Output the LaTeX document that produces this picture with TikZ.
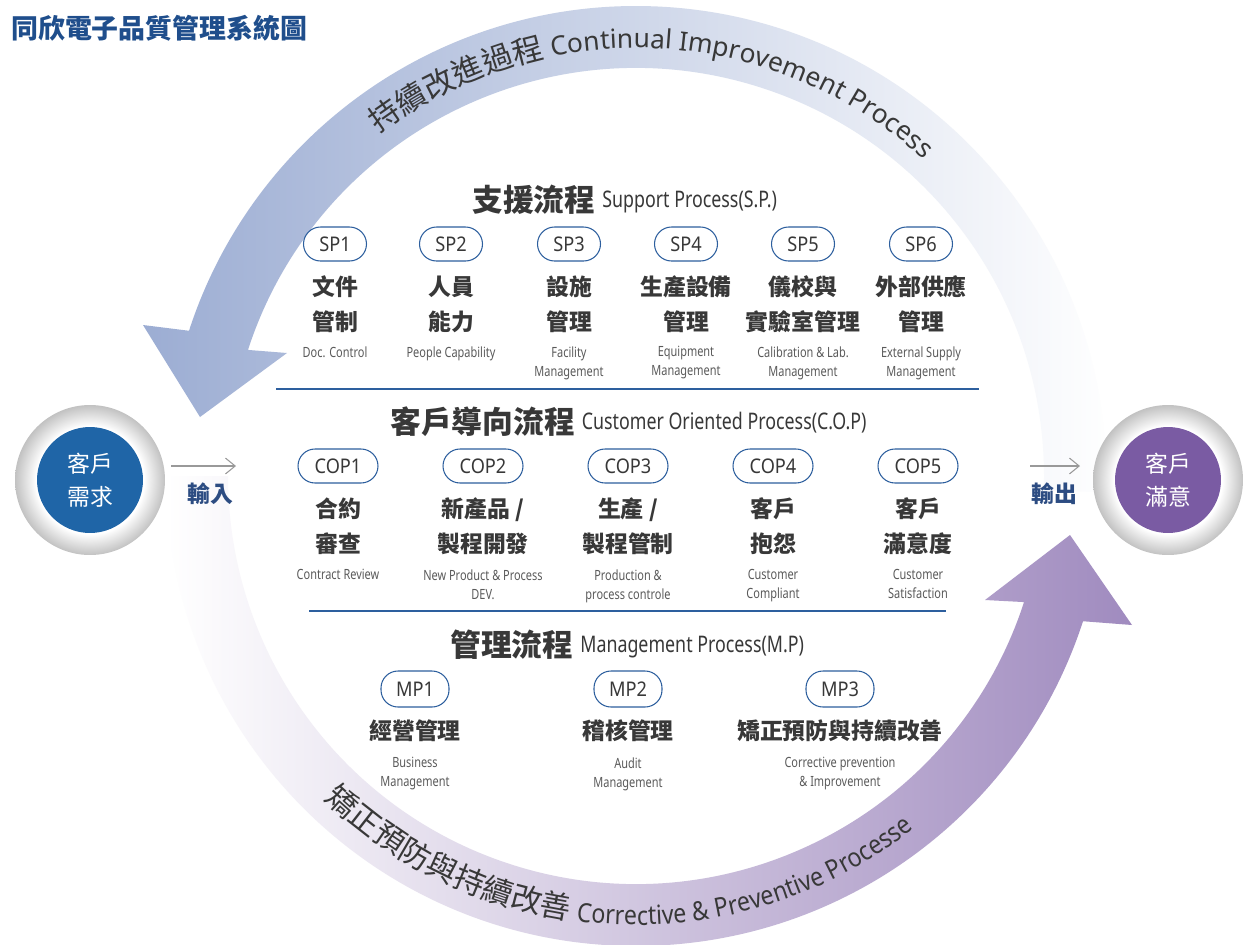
\documentclass[tikz,border=0pt]{standalone}
\usepackage{fontspec}
\setmainfont{Noto Sans CJK TC}
\newfontfamily\condfont[FakeStretch=0.78]{Noto Sans}
\newfontfamily\pillfont[FakeStretch=0.9]{Noto Sans}
\newfontfamily\arcfont{Noto Sans}
\newfontfamily\arcnarrow[FakeStretch=0.88]{Noto Sans}
\usetikzlibrary{calc,arrows.meta}

\definecolor{titleblue}{HTML}{1F4E8C}
\definecolor{lineblue}{HTML}{2D5F9E}
\definecolor{headgrey}{HTML}{383838}
\definecolor{descgrey}{HTML}{5A5A5A}
\definecolor{arcblue}{HTML}{9CADD3}
\definecolor{arcpurple}{HTML}{A08BBF}
\definecolor{needblue}{HTML}{1F65A7}
\definecolor{gladpurple}{HTML}{7A5BA3}
\definecolor{ioblue}{HTML}{2C4C82}

\pgfdeclareradialshading{ringshade}{\pgfpointorigin}{color(0bp)=(white); color(18bp)=(white); color(25bp)=(black!24); color(50bp)=(black!24)}

% letters set one by one round an arc: centre, radius, start angle, +1/-1, font, name prefix, letters
\newdimen\arcw
\newdimen\arcrun
\newcommand\arcchars[7]{%
  \foreach \ch [count=\k] in {#7}{%
    \pgfinterruptpicture\setbox0=\hbox{#5\ch}\global\arcw=\wd0 \endpgfinterruptpicture
    \pgfmathsetmacro\ang{#3+#4*(\the\arcrun+0.5*\the\arcw)/(#2*0.56693)*57.29578}%
    \node[inner sep=0pt, anchor=base, text=headgrey, font=#5, rotate=\ang+#4*90] (#6\k) at ([shift={(\ang:#2)}]#1) {\ch};
    \global\advance\arcrun by \arcw
  }%
}

\begin{document}
\begin{tikzpicture}[x=0.02cm, y=0.02cm]
\tikzset{
  pill/.style={draw=lineblue, line width=0.6pt, rounded corners=0.34cm, minimum height=0.68cm, minimum width=1.26cm, inner sep=0pt, text=headgrey, font=\pillfont\fontsize{11.5}{11.5}\selectfont},
  zh/.style={align=center, inner sep=0pt, text=headgrey, font=\bfseries\fontsize{13}{19.9}\selectfont},
  en/.style={align=center, inner sep=0pt, anchor=north, text=descgrey, font=\condfont\fontsize{8}{10.8}\selectfont},
  heading/.style={anchor=base west, inner sep=0pt, text=headgrey},
  ring/.style={circle, minimum size=3cm, inner sep=0pt, shade, shading=ringshade},
  core/.style={circle, minimum size=2.12cm, inner sep=0pt, align=center, text=white, font=\fontsize{13}{18.7}\selectfont},
  io/.style={draw=black!40, line width=0.6pt, -{Straight Barb[length=5.5pt, width=9pt]}},
  iotext/.style={inner sep=0pt, text=ioblue, font=\bfseries\fontsize{13}{13}\selectfont},
  sep/.style={draw=lineblue, line width=0.8pt}
}
\fill[white] (0,0) rectangle (1245,-944);
\useasboundingbox (0,0) rectangle (1245,-944);
\coordinate (C) at (636,-476);

% the two big arrows
\shade[left color=arcblue, middle color=arcblue!60, right color=white]
  ([shift={(-2:470)}]C) arc[start angle=-2, end angle=162, radius=470]
  -- (143,-325) -- (200,-417) -- (287,-353)
  -- ([shift={(162:408)}]C) arc[start angle=162, end angle=-2, radius=408] -- cycle;
\shade[left color=white, middle color=arcpurple!55, right color=arcpurple]
  ([shift={(180:470)}]C) arc[start angle=180, end angle=342, radius=470]
  -- (1132,-625) -- (1070,-535) -- (985,-600)
  -- ([shift={(342:408)}]C) arc[start angle=342, end angle=180, radius=408] -- cycle;

\global\arcrun=0pt
\arcchars{C}{428}{127}{-1}{\fontsize{17.5}{17.5}\selectfont}{ta}{持,續,改,進,過,程,~}
\arcchars{C}{428}{127}{-1}{\arcfont\fontsize{15}{15}\selectfont}{tb}{C,o,n,t,i,n,u,a,l,~,I,m,p,r,o,v,e,m,e,n,t,~,P,r,o,c,e,s,s}
\global\arcrun=0pt
\arcchars{C}{449}{-134}{1}{\fontsize{17.5}{17.5}\selectfont}{ba}{矯,正,預,防,與,持,續,改,善,~}
\arcchars{C}{449}{-134}{1}{\arcnarrow\fontsize{15}{15}\selectfont}{bb}{C,o,r,r,e,c,t,i,v,e,~,\&,~,P,r,e,v,e,n,t,i,v,e,~,P,r,o,c,e,s,s,e}

% title
\node[anchor=base west, inner sep=0pt, text=titleblue, font=\bfseries\fontsize{15.3}{15.3}\selectfont] (title) at (11,-38) {同欣電子品質管理系統圖};

% input / output
\node[ring] (inring) at (90,-480) {};
\node[core, fill=needblue] (need) at (inring) {客戶\\需求};
\node[ring] (outring) at (1168,-480) {};
\node[core, fill=gladpurple] (glad) at (outring) {客戶\\滿意};
\coordinate (in1) at (171,-466);
\coordinate (in2) at (236,-466);
\draw[io] (in1) -- (in2);
\node[iotext] (intext) at (210,-494) {輸入};
\coordinate (out1) at (1030,-466);
\coordinate (out2) at (1080,-466);
\draw[io] (out1) -- (out2);
\node[iotext] (outtext) at (1054,-494) {輸出};

% support process
\node[heading] (sphead) at (472,-211) {\fontsize{17.5}{17.5}\selectfont\bfseries 支援流程 \condfont\mdseries\fontsize{13}{13}\selectfont\raisebox{2pt}{Support Process(S.P.)}};
\node[pill] (sp1) at (335,-244) {SP1};
\node[zh] (sp1zh) at (335,-304.5) {文件\\管制};
\node[en] (sp1en) at (335,-346) {Doc. Control};
\node[pill] (sp2) at (451,-244) {SP2};
\node[zh] (sp2zh) at (451,-304.5) {人員\\能力};
\node[en] (sp2en) at (451,-346) {People Capability};
\node[pill] (sp3) at (569,-244) {SP3};
\node[zh] (sp3zh) at (569,-304.5) {設施\\管理};
\node[en] (sp3en) at (569,-346) {Facility\\Management};
\node[pill] (sp4) at (686,-244) {SP4};
\node[zh] (sp4zh) at (686,-304.5) {生產設備\\管理};
\node[en] (sp4en) at (686,-346) {Equipment\\Management};
\node[pill] (sp5) at (803,-244) {SP5};
\node[zh] (sp5zh) at (803,-304.5) {儀校與\\實驗室管理};
\node[en] (sp5en) at (803,-346) {Calibration \& Lab.\\Management};
\node[pill] (sp6) at (921,-244) {SP6};
\node[zh] (sp6zh) at (921,-304.5) {外部供應\\管理};
\node[en] (sp6en) at (921,-346) {External Supply\\Management};
\draw[sep] (276,-389) -- (979,-389);

% customer oriented process
\node[heading] (cophead) at (390,-433) {\fontsize{17.5}{17.5}\selectfont\bfseries 客戶導向流程 \condfont\mdseries\fontsize{13}{13}\selectfont\raisebox{2pt}{Customer Oriented Process(C.O.P)}};
\node[pill, minimum width=1.6cm] (cop1) at (338,-466) {COP1};
\node[zh] (cop1zh) at (338,-526.5) {合約\\審查};
\node[en] (cop1en) at (338,-569) {Contract Review};
\node[pill, minimum width=1.6cm] (cop2) at (483,-466) {COP2};
\node[zh] (cop2zh) at (483,-526.5) {新產品 /\\製程開發};
\node[en] (cop2en) at (483,-569) {New Product \& Process\\DEV.};
\node[pill, minimum width=1.6cm] (cop3) at (628,-466) {COP3};
\node[zh] (cop3zh) at (628,-526.5) {生產 /\\製程管制};
\node[en] (cop3en) at (628,-569) {Production \&\\process controle};
\node[pill, minimum width=1.6cm] (cop4) at (773,-466) {COP4};
\node[zh] (cop4zh) at (773,-526.5) {客戶\\抱怨};
\node[en] (cop4en) at (773,-569) {Customer\\Compliant};
\node[pill, minimum width=1.6cm] (cop5) at (918,-466) {COP5};
\node[zh] (cop5zh) at (918,-526.5) {客戶\\滿意度};
\node[en] (cop5en) at (918,-569) {Customer\\Satisfaction};
\draw[sep] (309,-611) -- (946,-611);

% management process
\node[heading] (mphead) at (450,-656) {\fontsize{17.5}{17.5}\selectfont\bfseries 管理流程 \condfont\mdseries\fontsize{13}{13}\selectfont\raisebox{2pt}{Management Process(M.P)}};
\node[pill, minimum width=1.36cm, minimum height=0.72cm] (mp1) at (415,-689) {MP1};
\node[zh] (mp1zh) at (415,-731) {經營管理};
\node[en] (mp1en) at (415,-757) {Business\\Management};
\node[pill, minimum width=1.36cm, minimum height=0.72cm] (mp2) at (628,-689) {MP2};
\node[zh] (mp2zh) at (628,-731) {稽核管理};
\node[en] (mp2en) at (628,-757) {Audit\\Management};
\node[pill, minimum width=1.36cm, minimum height=0.72cm] (mp3) at (840,-689) {MP3};
\node[zh] (mp3zh) at (840,-731) {矯正預防與持續改善};
\node[en] (mp3en) at (840,-757) {Corrective prevention\\\& Improvement};
\end{tikzpicture}
\end{document}
